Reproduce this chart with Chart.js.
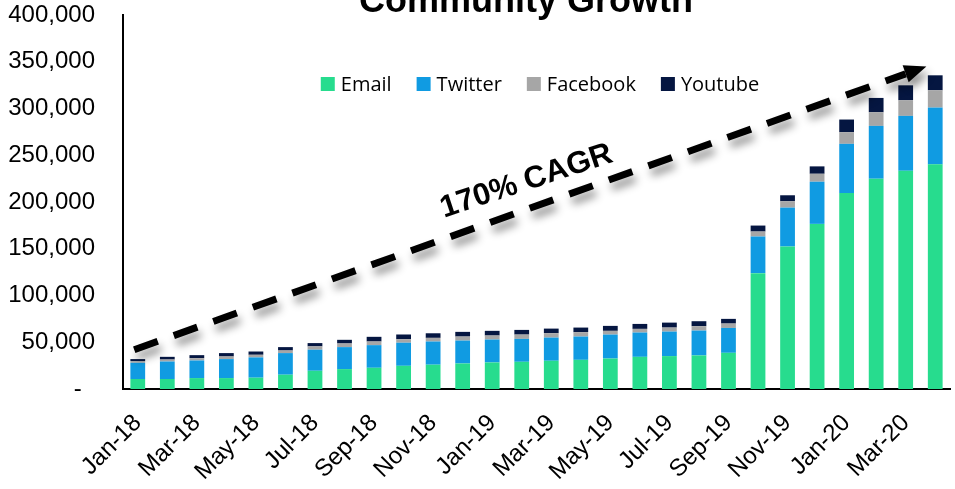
<!DOCTYPE html>
<html>
<head>
<meta charset="utf-8">
<title>Community Growth</title>
<script src="https://cdn.jsdelivr.net/npm/chart.js@4.4.1/dist/chart.umd.min.js"></script>
<style>
  html, body { margin: 0; padding: 0; background: #fff; }
  #growthChart { display: block; }
</style>
</head>
<body>
<canvas id="growthChart" width="955" height="489"></canvas>
<script>
// Monthly community size by channel
const months = [
  "Jan-18", "Feb-18", "Mar-18", "Apr-18", "May-18", "Jun-18", "Jul-18",
  "Aug-18", "Sep-18", "Oct-18", "Nov-18", "Dec-18", "Jan-19", "Feb-19",
  "Mar-19", "Apr-19", "May-19", "Jun-19", "Jul-19", "Aug-19", "Sep-19",
  "Oct-19", "Nov-19", "Dec-19", "Jan-20", "Feb-20", "Mar-20", "Apr-20"
];
const email = [
  10700, 10700, 11700, 11700, 12100, 15300, 19500, 21300, 22700, 24800,
  26000, 27300, 28400, 29100, 30200, 31200, 32600, 34400, 35200, 35900,
  38700, 123900, 152400, 176600, 209600, 224900, 233400, 240300
];
const twitter = [
  17300, 18700, 18800, 20300, 21700, 23100, 22500, 23500, 24200, 24700,
  24800, 24500, 24500, 24500, 24800, 24900, 25600, 26000, 26200, 26600,
  26600, 39200, 41600, 45100, 52600, 56500, 58700, 60700
];
const facebook = [
  1900, 2100, 2500, 2800, 2800, 2800, 3600, 3900, 3900, 3800,
  3900, 4300, 4300, 4600, 4700, 4700, 4000, 3900, 4300, 4700,
  4700, 5300, 6800, 8500, 12500, 14600, 16700, 18500
];
const youtube = [
  2100, 2900, 3200, 3600, 3500, 3600, 3500, 3900, 5000, 5000,
  4900, 5000, 5000, 5000, 4900, 4900, 5300, 5300, 5300, 5300,
  5000, 6400, 6400, 7900, 13500, 15300, 16000, 16000
];
const yTicks = [0, 50000, 100000, 150000, 200000, 250000, 300000, 350000, 400000];

const chartTitle = "Community Growth";
const cagrLabel = "170% CAGR";
// arrow ends in data units (category index, value)
const arrowStart = { x: -0.12, y: 42000 };
const arrowEnd = { x: 26.7, y: 345000 };

const colors = {
  email: "#27DC8E",
  twitter: "#109BE2",
  facebook: "#A6A6A6",
  youtube: "#051641"
};

// title, trend arrow and the legend sitting inside the plot
const overlayPlugin = {
  id: "overlay",
  afterDatasetsDraw(chart) {
    const ctx = chart.ctx;
    const xs = chart.scales.x;
    const ys = chart.scales.y;
    const x0 = xs.getPixelForValue(arrowStart.x);
    const y0 = ys.getPixelForValue(arrowStart.y);
    const x1 = xs.getPixelForValue(arrowEnd.x);
    const y1 = ys.getPixelForValue(arrowEnd.y);
    const ang = Math.atan2(y1 - y0, x1 - x0);
    const headLen = 22;
    const headHalf = 9;

    ctx.save();
    ctx.shadowColor = "rgba(0,0,0,0.45)";
    ctx.shadowBlur = 8;
    ctx.shadowOffsetX = 3;
    ctx.shadowOffsetY = 7;
    ctx.strokeStyle = "#000";
    ctx.fillStyle = "#000";
    ctx.lineWidth = 7;
    ctx.setLineDash([25, 17]);
    ctx.beginPath();
    ctx.moveTo(x0, y0);
    ctx.lineTo(x1 - Math.cos(ang) * headLen, y1 - Math.sin(ang) * headLen);
    ctx.stroke();
    ctx.setLineDash([]);
    // arrow head
    ctx.beginPath();
    ctx.moveTo(x1, y1);
    ctx.lineTo(x1 - Math.cos(ang) * headLen - Math.sin(ang) * headHalf,
               y1 - Math.sin(ang) * headLen + Math.cos(ang) * headHalf);
    ctx.lineTo(x1 - Math.cos(ang) * headLen + Math.sin(ang) * headHalf,
               y1 - Math.sin(ang) * headLen - Math.cos(ang) * headHalf);
    ctx.closePath();
    ctx.fill();
    ctx.restore();

    // CAGR label along the arrow
    ctx.save();
    ctx.translate((x0 + x1) / 2 + 5, (y0 + y1) / 2);
    ctx.rotate(ang + 0.025);
    ctx.font = "bold 31px 'Liberation Sans', Arial, sans-serif";
    ctx.fillStyle = "#000";
    ctx.textAlign = "center";
    ctx.textBaseline = "middle";
    ctx.fillText(cagrLabel, 0, -28);
    ctx.restore();
  },
  afterDraw(chart) {
    const ctx = chart.ctx;
    // title, cut off by the top edge like the source
    ctx.save();
    ctx.font = "bold 36px 'Liberation Sans', Arial, sans-serif";
    ctx.fillStyle = "#000";
    ctx.textAlign = "center";
    ctx.textBaseline = "alphabetic";
    ctx.fillText(chartTitle, 526, 12);

    // legend
    ctx.font = "20px 'Open Sans', sans-serif";
    ctx.textBaseline = "middle";
    ctx.textAlign = "left";
    const box = 14, gap = 6, itemGap = 25;
    const items = chart.data.datasets.map(ds => ({
      label: ds.label,
      color: ds.backgroundColor,
      w: box + gap + ctx.measureText(ds.label).width
    }));
    const total = items.reduce((s, it) => s + it.w, 0) + itemGap * (items.length - 1);
    let x = 540 - total / 2;
    const yMid = 84;
    items.forEach(it => {
      ctx.fillStyle = it.color;
      ctx.fillRect(x, yMid - box / 2, box, box);
      ctx.fillStyle = "#000";
      ctx.fillText(it.label, x + box + gap, yMid + 1);
      x += it.w + itemGap;
    });
    ctx.restore();
  }
};

const ctx = document.getElementById("growthChart").getContext("2d");

new Chart(ctx, {
  type: "bar",
  data: {
    labels: months,
    datasets: [
      { label: "Email", data: email, backgroundColor: colors.email },
      { label: "Twitter", data: twitter, backgroundColor: colors.twitter },
      { label: "Facebook", data: facebook, backgroundColor: colors.facebook },
      { label: "Youtube", data: youtube, backgroundColor: colors.youtube }
    ]
  },
  options: {
    responsive: false,
    animation: false,
    layout: { padding: { top: 15, right: 5, left: 0, bottom: 0 } },
    datasets: { bar: { categoryPercentage: 0.5, barPercentage: 1.0 } },
    plugins: {
      legend: { display: false },
      tooltip: { enabled: false }
    },
    scales: {
      x: {
        stacked: true,
        grid: { display: false },
        border: { display: true, color: "#000", width: 2 },
        afterFit: (scale) => {
          scale.height = 100;
          scale.paddingLeft = 0;
          scale.paddingRight = 0;
        },
        ticks: {
          autoSkip: false,
          minRotation: 45,
          maxRotation: 45,
          padding: 12,
          color: "#000",
          font: { family: "'Liberation Sans', Arial, sans-serif", size: 24 },
          callback: (val, i) => (i % 2 === 0 ? months[i] : "")
        }
      },
      y: {
        stacked: true,
        min: 0,
        max: 400000,
        grid: { display: false },
        border: { display: true, color: "#000", width: 2 },
        afterFit: (scale) => {
          scale.width = 123;
          scale.paddingTop = 0;
          scale.paddingBottom = 0;
        },
        afterBuildTicks: (scale) => { scale.ticks = yTicks.map(v => ({ value: v })); },
        ticks: {
          padding: 20,
          color: "#000",
          font: { family: "'Liberation Sans', Arial, sans-serif", size: 24 },
          callback: (v) => (v === 0 ? "-  " : v.toLocaleString("en-US"))
        }
      }
    }
  },
  plugins: [overlayPlugin]
});
</script>
</body>
</html>
